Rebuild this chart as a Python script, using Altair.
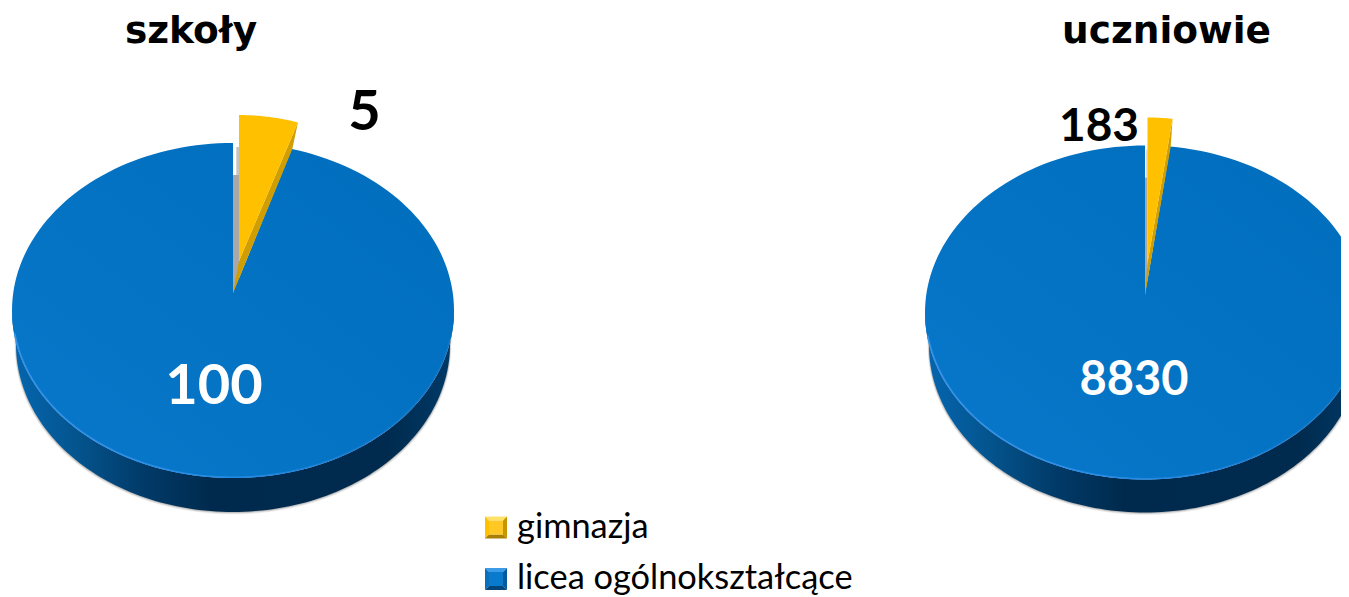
import math
import altair as alt
import pandas as pd

# ---- values ----
categories = ["gimnazja", "licea ogólnokształcące"]
panel_titles = ["szkoły", "uczniowie"]
szkoly_values = [5, 100]
uczniowie_values = [183, 8830]

# ---- page geometry helpers (page pixels, moved by the 8px page margin) ----
MARGIN = 8
W, H = 1333, 589
LEAN = 0.9  # perspective foreshortening of the sector's edge


def ell(cx, cy, rx, ry, deg):
    t = math.radians(deg)
    return [cx + rx * math.sin(t), cy - ry * math.cos(t)]


def arc(cx, cy, rx, ry, a, b, n=180):
    return [ell(cx, cy, rx, ry, a + (b - a) * i / n) for i in range(n + 1)]


proj = dict(type="identity", scale=1, translate=[-MARGIN, -MARGIN])


def poly(points, fill, **kw):
    ring = points + [points[0]]
    feat = {"type": "Feature", "properties": {},
            "geometry": {"type": "Polygon", "coordinates": [ring]}}
    return (alt.Chart(alt.Data(values=[feat]))
            .mark_geoshape(fill=fill, strokeWidth=0, **kw)
            .project(**proj))


def polyline(points, stroke, width):
    feat = {"type": "Feature", "properties": {},
            "geometry": {"type": "LineString", "coordinates": points}}
    return (alt.Chart(alt.Data(values=[feat]))
            .mark_geoshape(filled=False, stroke=stroke, strokeWidth=width)
            .project(**proj))


def grad(stops, x1=0.0, y1=0.0, x2=1.0, y2=0.0):
    return alt.Gradient(gradient="linear", x1=x1, y1=y1, x2=x2, y2=y2,
                        stops=[alt.GradientStop(offset=o, color=c) for o, c in stops])


SIDE = grad([(0, "#0566B0"), (0.14, "#04558F"), (0.3, "#013A68"), (0.45, "#002A4D"),
             (0.85, "#002B4E"), (1, "#003A68")])
TOP = grad([(0, "#0878CB"), (0.55, "#0472C2"), (1, "#006EBD")], x1=0, y1=1, x2=1, y2=0)
RIM = grad([(0, "rgba(60,150,235,0.9)"), (0.5, "rgba(40,140,230,0.9)"),
            (1, "rgba(40,130,220,0.25)")])


def pie(values, cx, cy, rx, ry, depth, apex_y, gold_dx, gold_rx, gold_dy, wall):
    gold_v, blue_v = values
    sweep = 360 * gold_v / (gold_v + blue_v)
    edge = sweep * LEAN
    apex = [cx, apex_y]
    layers = []
    # soft shadow below the disc
    for grow, op in [(4, 0.10), (2.5, 0.16), (1.2, 0.22)]:
        pts = arc(cx, cy, rx, ry, 90, 270, 90) + arc(cx, cy + depth + grow * 0.6, rx - 4 + grow * 0.3, ry, 270, 90, 120)
        layers.append(poly(pts, "#555555", opacity=op))
    # side wall
    side = arc(cx, cy, rx, ry, 90, 270, 120) + arc(cx, cy + depth, rx - 4, ry, 270, 90, 120)
    layers.append(poly(side, SIDE))
    # grey inner wall behind the removed sector
    gx = cx + wall
    layers.append(poly([apex, [cx, cy - ry + 32], [gx, cy - ry + 32], [gx, apex_y - 8]], "#A8A8A8"))
    layers.append(poly([[cx + wall * 0.55, cy - ry + 32], [cx + wall * 0.55, cy - ry + 4],
                        [gx, cy - ry + 4], [gx, cy - ry + 32]], "#C4C4C4"))
    # blue sector
    blue = [apex] + arc(cx, cy, rx, ry, edge, 360)
    layers.append(poly(blue, TOP))
    layers.append(polyline(arc(cx, cy, rx - 0.7, ry - 0.7, 100, 262, 120), RIM, 1.6))
    # gold, pulled out of the pie
    gcx = cx + gold_dx
    gcy = cy + gold_dy
    g = arc(gcx, gcy, gold_rx, ry, 0, sweep, 30)
    tip = g[-1]
    foot = [cx + wall, apex_y - 32]
    blue_edge = ell(cx, cy, rx, ry, edge)
    layers.append(poly([apex, foot, tip, [blue_edge[0] + 0.5, blue_edge[1]]], "#D09E00"))
    layers.append(poly(g + [foot], "#FFC000"))
    return layers


def swatch(x, y, s, b, colours):
    top, left, right, bottom, centre = colours
    a, c = x, x + s
    d, e = y, y + s
    return [
        poly([[a, d], [c, d], [c - b, d + b], [a + b, d + b]], top),
        poly([[a, d], [a + b, d + b], [a + b, e - b], [a, e]], left),
        poly([[c, d], [c, e], [c - b, e - b], [c - b, d + b]], right),
        poly([[a, e], [a + b, e - b], [c - b, e - b], [c, e]], bottom),
        poly([[a + b, d + b], [c - b, d + b], [c - b, e - b], [a + b, e - b]], centre),
    ]


def place(v):
    return [p - MARGIN for p in v]


def texts(df, font):
    return (alt.Chart(df).mark_text(font=font, fontWeight="bold", baseline="alphabetic", align="center")
            .encode(x=alt.X("px:Q", scale=None), y=alt.Y("py:Q", scale=None),
                    text="t:N", size=alt.Size("s:Q", scale=None, legend=None),
                    color=alt.Color("c:N", scale=None)))


layers = []
layers += pie(szkoly_values, 233, 310.5, 221, 167.5, 34, 293, 6, 200, -28, 6)
layers += pie(uczniowie_values, 1145, 312.5, 220, 167, 33, 295, 2.5, 197, -28, 2.5)
layers += swatch(485, 516.5, 22, 4, ("#FFE26A", "#FFC000", "#C79700", "#A87F00", "#FFC825"))
layers += swatch(485, 568, 22, 4, ("#3A9BE8", "#0A70BC", "#045A9C", "#03467C", "#0A7ACC"))

numbers = pd.DataFrame({
    "t": [str(szkoly_values[0]), str(szkoly_values[1]), str(uczniowie_values[0]), str(uczniowie_values[1])],
    "px": place([364.5, 214, 1099, 1134]),
    "py": place([130, 404, 141, 394.5]),
    "s": [56, 56, 46, 47],
    "c": ["#000000", "#FFFFFF", "#000000", "#FFFFFF"],
})
titles = pd.DataFrame({
    "t": panel_titles,
    "px": place([191, 1166.5]),
    "py": place([43, 43]),
    "s": [37.5, 37.5],
    "c": ["#000000", "#000000"],
})
legend = pd.DataFrame({
    "t": categories,
    "px": place([517, 517]),
    "py": place([538, 589]),
})

layers.append(texts(numbers, "Lato"))
layers.append(texts(titles, "DejaVu Sans"))
layers.append(alt.Chart(legend).mark_text(font="Lato", fontSize=34.4, align="left", baseline="alphabetic", color="#000000")
              .encode(x=alt.X("px:Q", scale=None), y=alt.Y("py:Q", scale=None), text="t:N"))

chart = (alt.layer(*layers)
         .properties(width=W, height=H, padding=0, background="white",
                     autosize=alt.AutoSizeParams(type="none"))
         .configure_view(stroke=None))

chart.save("out.html", embed_options={"renderer": "svg", "actions": False})
